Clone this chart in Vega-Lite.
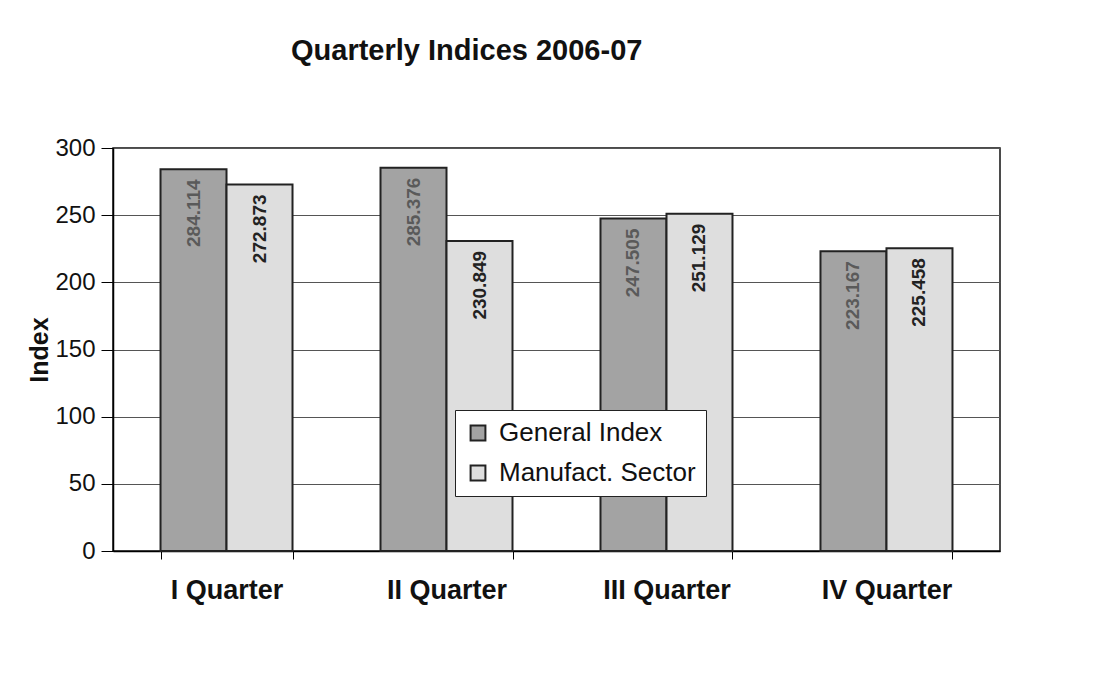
{
  "$schema": "https://vega.github.io/schema/vega-lite/v6.json",
  "width": 887,
  "height": 403,
  "autosize": "none",
  "padding": {"left": 113, "top": 148, "right": 94, "bottom": 126},
  "background": "white",
  "title": {
    "text": "Quarterly Indices 2006-07",
    "anchor": "start",
    "frame": "group",
    "dx": 178,
    "offset": 70,
    "font": "Liberation Sans",
    "fontSize": 29,
    "fontWeight": "bold",
    "color": "#111"
  },
  "data": {
    "values": [
      {"quarter": "I Quarter", "series": "General Index", "value": 284.114},
      {"quarter": "I Quarter", "series": "Manufact. Sector", "value": 272.873},
      {"quarter": "II Quarter", "series": "General Index", "value": 285.376},
      {"quarter": "II Quarter", "series": "Manufact. Sector", "value": 230.849},
      {"quarter": "III Quarter", "series": "General Index", "value": 247.505},
      {"quarter": "III Quarter", "series": "Manufact. Sector", "value": 251.129},
      {"quarter": "IV Quarter", "series": "General Index", "value": 223.167},
      {"quarter": "IV Quarter", "series": "Manufact. Sector", "value": 225.458}
    ]
  },
  "encoding": {
    "x": {
      "field": "quarter",
      "type": "nominal",
      "sort": null,
      "scale": {"paddingInner": 0.4, "paddingOuter": 0.216},
      "axis": {
        "title": null,
        "labelAngle": 0,
        "labelFont": "Liberation Sans",
        "labelFontSize": 27,
        "labelFontWeight": "bold",
        "labelColor": "#111",
        "labelPadding": 18,
        "tickBand": "extent",
        "tickSize": 8,
        "tickColor": "#000",
        "domainColor": "#000",
        "domainWidth": 1.5
      }
    },
    "xOffset": {"field": "series", "type": "nominal", "scale": {"paddingInner": 0}},
    "y": {
      "field": "value",
      "type": "quantitative",
      "scale": {"domain": [0, 300], "nice": false},
      "axis": {
        "title": "Index",
        "titleFont": "Liberation Sans",
        "titleFontSize": 25,
        "titleFontWeight": "bold",
        "titleColor": "#111",
        "titlePadding": 2,
        "values": [0, 50, 100, 150, 200, 250, 300],
        "labelFont": "Liberation Sans",
        "labelFontSize": 24,
        "labelColor": "#111",
        "labelPadding": 6,
        "tickSize": 12,
        "tickColor": "#000",
        "domainColor": "#000",
        "domainWidth": 1.5,
        "gridColor": "#555",
        "gridWidth": 1
      }
    }
  },
  "layer": [
    {
      "mark": {"type": "bar", "stroke": "#222", "strokeWidth": 2},
      "encoding": {
        "color": {
          "field": "series",
          "type": "nominal",
          "scale": {"domain": ["General Index", "Manufact. Sector"], "range": ["#a3a3a3", "#dedede"]},
          "legend": {
            "title": null,
            "orient": "none",
            "legendX": 342,
            "legendY": 262,
            "direction": "vertical",
            "fillColor": "white",
            "strokeColor": "#222",
            "padding": 10,
            "rowPadding": 14,
            "symbolType": "square",
            "symbolSize": 220,
            "symbolStrokeColor": "#222",
            "symbolStrokeWidth": 2,
            "labelFont": "Liberation Sans",
            "labelFontSize": 26,
            "labelColor": "#111",
            "labelOffset": 8,
            "labelLimit": 400
          }
        }
      }
    },
    {
      "mark": {
        "type": "text",
        "angle": 270,
        "align": "right",
        "baseline": "middle",
        "dx": -10,
        "font": "Liberation Sans",
        "fontSize": 19,
        "fontWeight": "bold"
      },
      "encoding": {
        "text": {"field": "value", "type": "quantitative", "format": ".3f"},
        "fill": {
          "condition": {"test": "datum.series === 'General Index'", "value": "#5a5a5a"},
          "value": "#222"
        }
      }
    }
  ],
  "config": {
    "view": {"stroke": "#111", "strokeWidth": 1.5},
    "font": "Liberation Sans"
  }
}
